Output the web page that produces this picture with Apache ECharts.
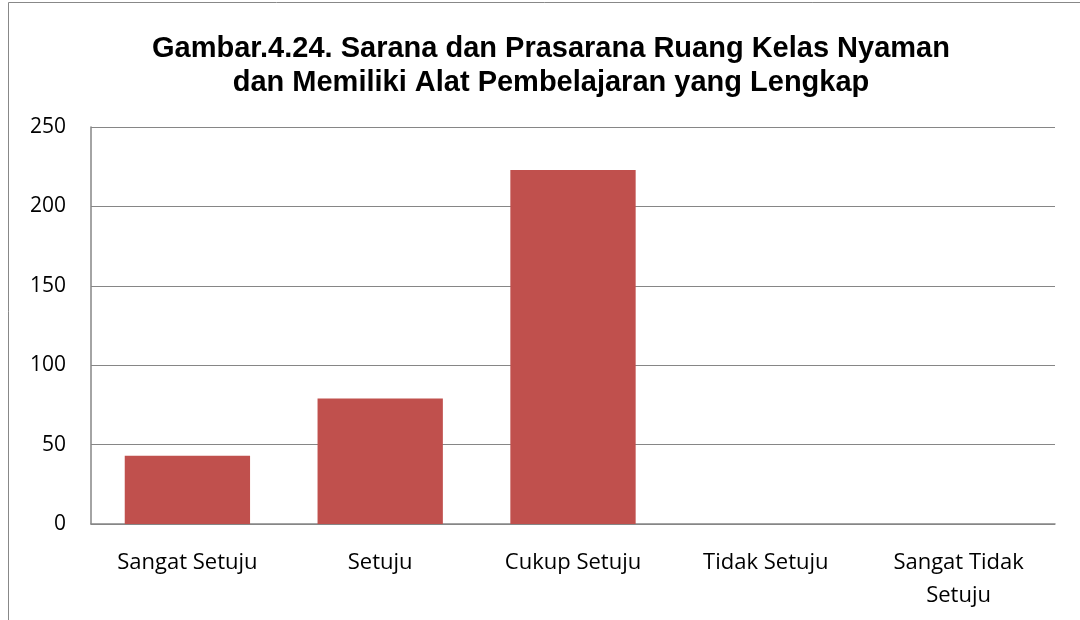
<!DOCTYPE html>
<html>
<head>
<meta charset="utf-8">
<script src="https://cdn.jsdelivr.net/npm/echarts@6/dist/echarts.min.js"></script>
<style>
  html, body { margin: 0; padding: 0; background: #fff; }
  #chart { width: 1080px; height: 620px; }
</style>
</head>
<body>
<div id="chart"></div>
<script>
// data
const categories = ['Sangat Setuju', 'Setuju', 'Cukup Setuju', 'Tidak Setuju', 'Sangat Tidak\nSetuju'];
const values = [43, 79, 223, 0, 0];
const yTicks = { min: 0, max: 250, interval: 50 };

const chart = echarts.init(document.getElementById('chart'));

const option = {
  backgroundColor: '#fff',
  animation: false,
  graphic: [{
    type: 'rect',
    shape: { x: 8.5, y: 2.5, width: 1090, height: 640 },
    style: { fill: 'none', stroke: '#888', lineWidth: 1 },
    silent: true
  }],
  title: {
    text: 'Gambar.4.24. Sarana dan Prasarana Ruang Kelas Nyaman\ndan Memiliki Alat Pembelajaran yang Lengkap',
    left: 546,
    top: 27,
    textAlign: 'center',
    textStyle: {
      fontFamily: 'Liberation Sans, Arial, sans-serif',
      fontWeight: 'bold',
      fontSize: 29,
      lineHeight: 34,
      color: '#000'
    }
  },
  grid: {
    left: 91,
    right: 25,
    top: 127,
    bottom: 96
  },
  xAxis: {
    type: 'category',
    data: categories,
    axisLine: { lineStyle: { color: '#868686', width: 1.5 } },
    axisTick: { show: false },
    axisLabel: {
      interval: 0,
      margin: 22,
      fontFamily: 'Open Sans, Noto Sans, sans-serif',
      fontSize: 22,
      lineHeight: 33,
      color: '#000'
    }
  },
  yAxis: {
    type: 'value',
    min: yTicks.min,
    max: yTicks.max,
    interval: yTicks.interval,
    axisLine: { show: true, lineStyle: { color: '#868686', width: 1.5 } },
    axisTick: { show: false },
    splitLine: { lineStyle: { color: '#868686', width: 1 } },
    axisLabel: {
      margin: 25,
      fontFamily: 'Open Sans, Noto Sans, sans-serif',
      fontSize: 21,
      color: '#000'
    }
  },
  series: [{
    type: 'bar',
    data: values,
    barWidth: '65%',
    itemStyle: { color: '#C0504D' }
  }]
};

chart.setOption(option);
</script>
</body>
</html>
